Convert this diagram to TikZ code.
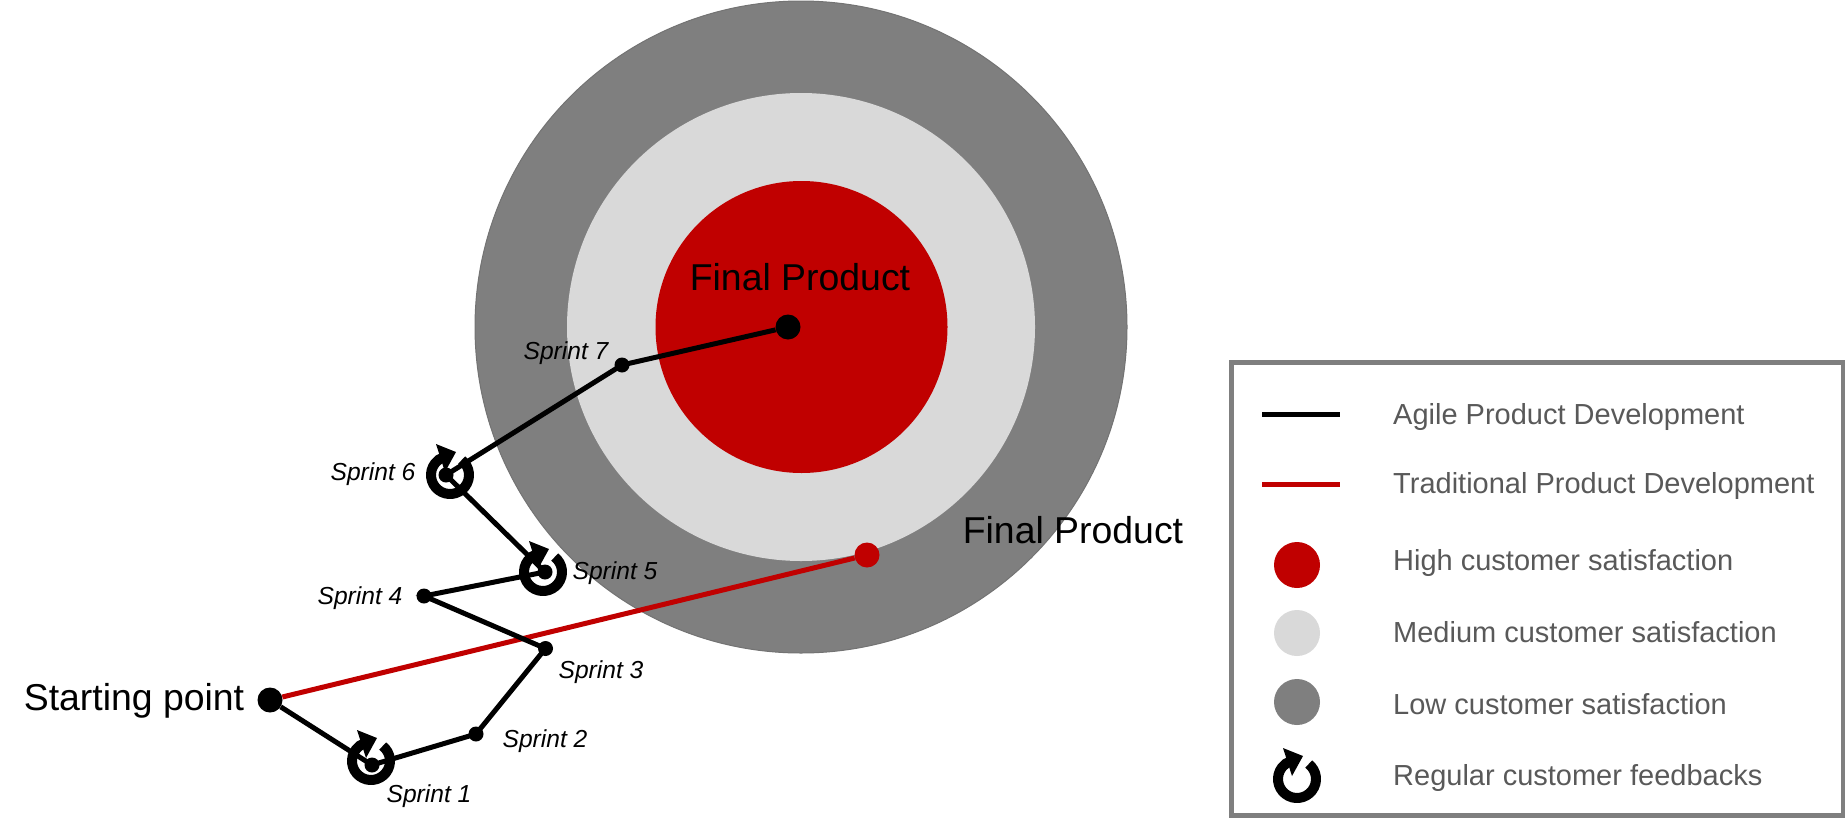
\documentclass[tikz,border=0pt]{standalone}
\usepackage{fontspec}
\setmainfont{Liberation Sans}
\definecolor{lowgrey}{HTML}{7F7F7F}
\definecolor{medgrey}{HTML}{D9D9D9}
\definecolor{hired}{HTML}{C00000}
\definecolor{legtext}{HTML}{595959}
\tikzset{
  dotbig/.style={circle,fill=black,inner sep=0pt,minimum size=25pt},
  dotsmall/.style={circle,fill=black,inner sep=0pt,minimum size=15pt},
  agile/.style={line width=5pt,black},
  trad/.style={line width=5pt,hired},
  bigtext/.style={font=\fontsize{37.4}{40}\selectfont,text=black,inner sep=0pt},
  sprinttext/.style={font=\fontsize{24.6}{28}\selectfont\itshape,text=black,inner sep=0pt},
  legendtext/.style={font=\fontsize{29}{32}\selectfont,text=legtext,inner sep=0pt,anchor=west},
  legdisc/.style={circle,inner sep=0pt,minimum size=46pt},
  feedback/.pic={
    \draw[line width=10pt,black] (-52:19) arc[start angle=-52,end angle=250,radius=19];
    \fill[black] (-14,-31) -- (6,-23) -- (-5,-3) -- cycle;
  }
}
\begin{document}
\begin{tikzpicture}[x=1pt,y=-1pt]
\useasboundingbox (0,0) rectangle (1845,822);
% target
\node[circle,fill=lowgrey,draw=gray!90!black,line width=1pt,inner sep=0pt,minimum size=652pt] (low) at (801,327) {};
\node[circle,fill=medgrey,inner sep=0pt,minimum size=468pt] (med) at (801,327) {};
\node[circle,fill=hired,inner sep=0pt,minimum size=292pt] (high) at (801.5,327) {};
% points
\node[dotbig] (start) at (270,700) {};
\node[dotsmall] (s1) at (372,765) {};
\node[dotsmall] (s2) at (476,734) {};
\node[dotsmall] (s3) at (545.5,648.5) {};
\node[dotsmall] (s4) at (424,596) {};
\node[dotsmall] (s5) at (545,572) {};
\node[dotsmall] (s6) at (446,475) {};
\node[dotsmall] (s7) at (622,365) {};
\node[dotbig] (fin) at (788,327) {};
\node[circle,fill=hired,inner sep=0pt,minimum size=25pt] (tradend) at (867,555) {};
% connectors
\draw[trad] (start) -- (tradend);
\draw[agile] (start) -- (s1.center) -- (s2.center) -- (s3.center) -- (s4.center) -- (s5.center) -- (s6.center) -- (s7.center) -- (fin);
% feedback icons
\pic at (371,761) {feedback};
\pic at (543,572) {feedback};
\pic at (450,475) {feedback};
% labels
\node[bigtext] (lf1) at (800,277) {Final Product};
\node[bigtext] (lf2) at (1073,530) {Final Product};
\node[bigtext] (lst) at (134,701) {Starting point};
\node[sprinttext] (l1) at (429,796) {Sprint 1};
\node[sprinttext] (l2) at (545,741) {Sprint 2};
\node[sprinttext] (l3) at (601,672) {Sprint 3};
\node[sprinttext] (l4) at (360,598) {Sprint 4};
\node[sprinttext] (l5) at (615,573) {Sprint 5};
\node[sprinttext] (l6) at (373,474) {Sprint 6};
\node[sprinttext] (l7) at (566,353) {Sprint 7};
% legend
\node[draw=lowgrey,line width=5pt,fill=white,inner sep=0pt,minimum width=612pt,minimum height=453pt] (legend) at (1537,589) {};
\coordinate (a1) at (1262,414); \coordinate (a2) at (1340,414);
\coordinate (b1) at (1262,484); \coordinate (b2) at (1340,484);
\draw[agile] (a1) -- (a2);
\draw[trad] (b1) -- (b2);
\node[legdisc,fill=hired] (dh) at (1297,565) {};
\node[legdisc,fill=medgrey] (dm) at (1297,633) {};
\node[legdisc,fill=lowgrey] (dl) at (1297,702) {};
\pic at (1297,779) {feedback};
\node[legendtext] (t1) at (1393,417) {Agile Product Development};
\node[legendtext] (t2) at (1393,486) {Traditional Product Development};
\node[legendtext] (t3) at (1393,563) {High customer satisfaction};
\node[legendtext] (t4) at (1393,632) {Medium customer satisfaction};
\node[legendtext] (t5) at (1393,704) {Low customer satisfaction};
\node[legendtext] (t6) at (1393,778) {Regular customer feedbacks};
\end{tikzpicture}
\end{document}
